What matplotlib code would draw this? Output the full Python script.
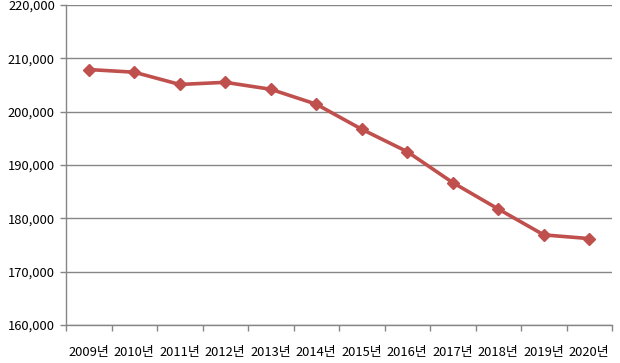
import matplotlib
matplotlib.use("Agg")
import matplotlib.pyplot as plt
from matplotlib.ticker import FuncFormatter, FixedLocator
import numpy as np

plt.rcParams['font.family'] = ['Noto Sans CJK KR', 'DejaVu Sans']

years = ["2009년", "2010년", "2011년", "2012년", "2013년", "2014년",
         "2015년", "2016년", "2017년", "2018년", "2019년", "2020년"]
values = [207900, 207400, 205100, 205500, 204200, 201400,
          196700, 192500, 186700, 181750, 176900, 176200]

fig = plt.figure(figsize=(6.2, 3.63), dpi=100)
ax = fig.add_axes([66/620, 1-325/363, (612-66)/620, (325-5)/363])

x = np.arange(len(years))
ax.plot(x, values, color="#C0504D", lw=2.6, marker="D", ms=6,
        markerfacecolor="#C0504D", markeredgecolor="#C0504D")

ax.set_xlim(-0.5, len(years)-0.5)
ax.set_ylim(160000, 220000)
ax.set_yticks(np.arange(160000, 220001, 10000))
ax.yaxis.set_major_formatter(FuncFormatter(lambda v, p: f"{int(v):,}"))
ax.grid(axis="y", color="#868686", lw=1)
ax.set_axisbelow(True)

ax.set_xticks(x)
ax.set_xticklabels(years)
ax.xaxis.set_minor_locator(FixedLocator(np.arange(-0.5, len(years), 1)))
ax.tick_params(axis="x", which="major", length=0, pad=15, labelsize=9.3)
ax.tick_params(axis="x", which="minor", length=4, color="#868686", width=1)
ax.tick_params(axis="y", length=4, color="#868686", width=1, pad=4, labelsize=9.3)

for s in ["top", "right"]:
    ax.spines[s].set_visible(False)
for s in ["left", "bottom"]:
    ax.spines[s].set_color("#868686")
    ax.spines[s].set_linewidth(1)

fig.savefig("out.png", dpi=100)
